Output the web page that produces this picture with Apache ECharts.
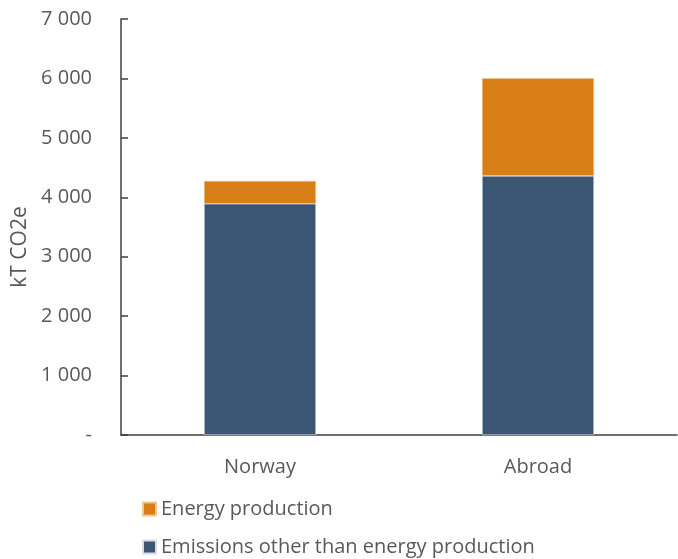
<!DOCTYPE html>
<html>
<head>
<meta charset="utf-8">
<script src="https://cdn.jsdelivr.net/npm/echarts@6/dist/echarts.min.js"></script>
<style>
  html, body { margin: 0; padding: 0; background: #fff; }
  #chart { width: 678px; height: 559px; }
</style>
</head>
<body>
<div id="chart"></div>
<script>
// Emissions by location, kT CO2e
const categories = ['Norway', 'Abroad'];
const otherEmissions = [3890, 4360];
const energyProduction = [385, 1645];
const yTicks = [0, 1000, 2000, 3000, 4000, 5000, 6000, 7000];
const seriesNames = ['Energy production', 'Emissions other than energy production'];

const textColor = '#595959';
const fontFamily = '"Open Sans", sans-serif';

function fmtTick(v) {
  if (v === 0) return '-';
  return String(v).replace(/\B(?=(\d{3})+(?!\d))/g, ' ');
}

function legendRow(name, top) {
  return {
    left: 137,
    top: top,
    itemWidth: 13,
    itemHeight: 13,
    icon: 'rect',
    data: [name],
    textStyle: { fontFamily: fontFamily, fontSize: 20, color: textColor }
  };
}

const chart = echarts.init(document.getElementById('chart'), null, { renderer: 'canvas' });
chart.setOption({
  animation: false,
  backgroundColor: '#fff',
  textStyle: { fontFamily: fontFamily, color: textColor },
  grid: { left: 121, top: 19, width: 556, height: 416, containLabel: false },
  legend: [legendRow(seriesNames[0], 494), legendRow(seriesNames[1], 532)],
  xAxis: {
    type: 'category',
    data: categories,
    axisLine: { show: true, lineStyle: { color: '#404040', width: 1.5 } },
    axisTick: { show: false },
    axisLabel: { fontSize: 20, color: textColor, margin: 22, fontFamily: fontFamily }
  },
  yAxis: {
    type: 'value',
    min: yTicks[0],
    max: yTicks[yTicks.length - 1],
    interval: 1000,
    name: 'kT CO2e',
    nameLocation: 'middle',
    nameGap: 76,
    nameTextStyle: { fontSize: 21, color: textColor, fontFamily: fontFamily, padding: [0, 40, 0, 0] },
    axisLine: { show: true, lineStyle: { color: '#404040', width: 1.5 } },
    axisTick: { show: true, inside: true, length: 7, lineStyle: { color: '#404040', width: 1.5 } },
    splitLine: { show: false },
    axisLabel: {
      fontSize: 20,
      color: textColor,
      margin: 29,
      fontFamily: fontFamily,
      formatter: fmtTick
    }
  },
  series: [
    {
      name: seriesNames[1],
      type: 'bar',
      stack: 'total',
      barWidth: 112,
      data: otherEmissions,
      itemStyle: { color: '#3A5673', borderColor: '#d9dee5', borderWidth: 0.6 }
    },
    {
      name: seriesNames[0],
      type: 'bar',
      stack: 'total',
      barWidth: 112,
      data: energyProduction,
      itemStyle: { color: '#D77E17', borderColor: '#f0c898', borderWidth: 0.6 }
    }
  ]
});
</script>
</body>
</html>
